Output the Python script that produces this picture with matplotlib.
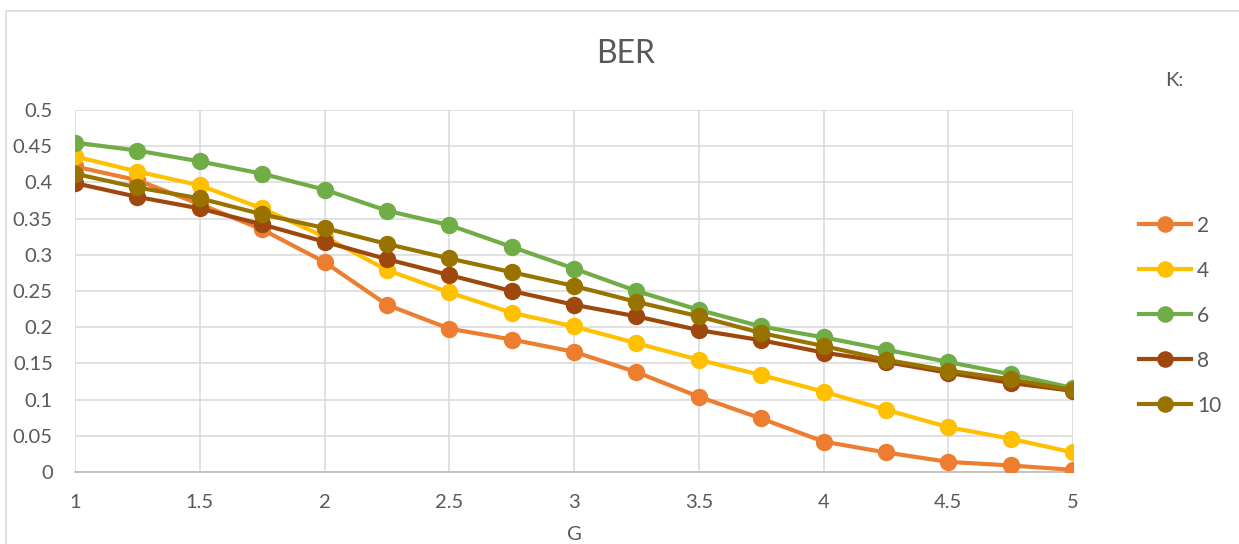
import matplotlib
matplotlib.use("Agg")
import matplotlib.pyplot as plt
from matplotlib.patches import Rectangle

plt.rcParams['font.family'] = ['Lato', 'DejaVu Sans']

g = [1, 1.25, 1.5, 1.75, 2, 2.25, 2.5, 2.75, 3, 3.25, 3.5, 3.75, 4, 4.25, 4.5, 4.75, 5]

ber_k2 = [0.422, 0.403, 0.370, 0.335, 0.290, 0.231, 0.198, 0.183, 0.166, 0.138, 0.104,
          0.074, 0.042, 0.027, 0.014, 0.009, 0.003]
ber_k4 = [0.436, 0.415, 0.396, 0.364, 0.325, 0.279, 0.248, 0.220, 0.201, 0.178, 0.155,
          0.134, 0.111, 0.086, 0.062, 0.046, 0.027]
ber_k6 = [0.455, 0.444, 0.429, 0.412, 0.390, 0.361, 0.341, 0.311, 0.281, 0.250, 0.224,
          0.201, 0.186, 0.169, 0.152, 0.135, 0.116]
ber_k8 = [0.399, 0.380, 0.364, 0.342, 0.318, 0.294, 0.272, 0.250, 0.231, 0.215, 0.196,
          0.182, 0.165, 0.152, 0.137, 0.123, 0.112]
ber_k10 = [0.412, 0.393, 0.378, 0.356, 0.337, 0.315, 0.295, 0.276, 0.257, 0.235, 0.215,
           0.192, 0.174, 0.155, 0.140, 0.128, 0.113]

series = [('2', ber_k2, '#ED7D31'),
          ('4', ber_k4, '#FFC000'),
          ('6', ber_k6, '#70AD47'),
          ('8', ber_k8, '#9E480E'),
          ('10', ber_k10, '#997300')]

txt = '#595959'
W, H = 1239, 544
fig = plt.figure(figsize=(W / 100, H / 100), dpi=100)

# outer chart border (only top/left visible in the picture)
fig.patches.append(Rectangle((6 / W, -0.1), 1.2, (H - 11) / H + 0.1,
                             transform=fig.transFigure, fill=False,
                             edgecolor='#D9D9D9', lw=1.2))

ax = fig.add_axes([75 / W, (H - 472) / H, 998 / W, 362 / H])

for name, vals, col in series:
    ax.plot(g, vals, color=col, lw=3, marker='o', ms=11.5, label=name, zorder=3)

ax.set_xlim(1, 5)
ax.set_ylim(0, 0.5)
ax.set_xticks([1, 1.5, 2, 2.5, 3, 3.5, 4, 4.5, 5])
ax.set_xticklabels(['1', '1.5', '2', '2.5', '3', '3.5', '4', '4.5', '5'])
ax.set_yticks([0, 0.05, 0.1, 0.15, 0.2, 0.25, 0.3, 0.35, 0.4, 0.45, 0.5])
ax.set_yticklabels(['0', '0.05', '0.1', '0.15', '0.2', '0.25', '0.3', '0.35', '0.4', '0.45', '0.5'])
ax.grid(True, color='#D9D9D9', lw=1.1, zorder=0)
ax.set_axisbelow(True)
for s in ['top', 'right', 'left']:
    ax.spines[s].set_visible(False)
ax.spines['bottom'].set_color('#BFBFBF')
ax.spines['bottom'].set_linewidth(1.3)
ax.tick_params(length=0, labelsize=14.5, labelcolor=txt)
ax.tick_params(axis='y', pad=16)
ax.tick_params(axis='x', pad=16)

ax.set_xlabel('G', fontsize=14.5, color=txt, labelpad=11)
fig.text(626 / W, 1 - 54 / H, 'BER', fontsize=23, color=txt, ha='center', va='center')
fig.text(1174 / W, 1 - 80 / H, 'K:', fontsize=14.5, color=txt, ha='center', va='center')

fig.legend(loc='upper left', bbox_to_anchor=(1120 / W, 1 - 197 / H), frameon=False,
           fontsize=15, labelcolor=txt, handlelength=2.5, labelspacing=1.2,
           handletextpad=0.3, markerscale=0.95)

fig.savefig('out.png', dpi=100)
